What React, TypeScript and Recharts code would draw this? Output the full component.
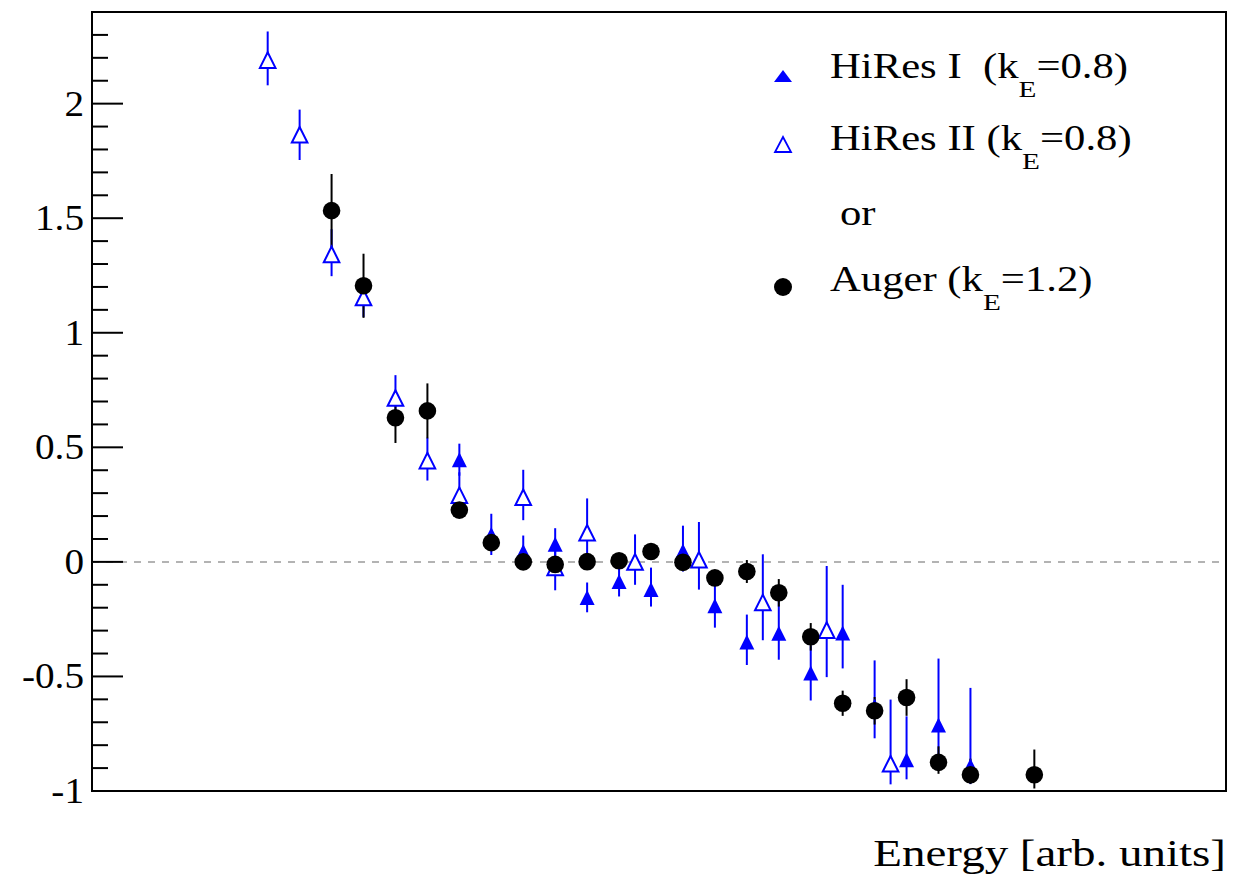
import React from 'react';
import {
  ScatterChart,
  Scatter,
  XAxis,
  YAxis,
  ErrorBar,
  ReferenceLine,
  ReferenceArea,
} from 'recharts';

// bin position along the (unlabelled) energy axis
const hiresIX = [6, 7, 8, 9, 10, 11, 12, 13, 14, 15, 16, 17, 18, 19, 20, 21, 22];
const hiresIY = [0.446, 0.12, 0.045, 0.077, -0.155, -0.086, -0.12, 0.048, -0.192, -0.35, -0.312, -0.485, -0.31, -0.63, -0.864, -0.712, -0.89];
const hiresIErrDown = [0.07, 0.09, 0.07, 0.07, 0.065, 0.065, 0.075, 0.09, 0.095, 0.1, 0.115, 0.12, 0.155, 0.14, 0.085, 0.16, 0.08];
const hiresIErrUp = [0.07, 0.09, 0.07, 0.07, 0.065, 0.065, 0.095, 0.11, 0.12, 0.12, 0.16, 0.12, 0.21, 0.2, 0.19, 0.29, 0.34];

const hiresIIX = [0, 1, 2, 3, 4, 5, 6, 8, 9, 10, 11.5, 13.5, 15.5, 17.5, 19.5];
const hiresIIY = [2.19, 1.864, 1.342, 1.154, 0.715, 0.442, 0.291, 0.282, -0.024, 0.127, 0.0, 0.009, -0.177, -0.298, -0.881];
const hiresIIErrDown = [0.11, 0.11, 0.095, 0.085, 0.1, 0.087, 0.1, 0.1, 0.1, 0.1, 0.1, 0.13, 0.165, 0.205, 0.09];
const hiresIIErrUp = [0.125, 0.11, 0.11, 0.085, 0.1, 0.1, 0.1, 0.12, 0.1, 0.15, 0.12, 0.165, 0.21, 0.28, 0.28];

const augerX = [2, 3, 4, 5, 6, 7, 8, 9, 10, 11, 12, 13, 14, 15, 16, 17, 18, 19, 20, 21, 22, 24];
const augerY = [1.533, 1.205, 0.629, 0.659, 0.226, 0.084, 0.0, -0.011, 0.001, 0.005, 0.045, -0.002, -0.07, -0.042, -0.135, -0.327, -0.617, -0.65, -0.592, -0.875, -0.929, -0.929];
const augerErrDown = [0.16, 0.14, 0.11, 0.12, 0.03, 0.03, 0.03, 0.03, 0.03, 0.03, 0.03, 0.03, 0.03, 0.05, 0.06, 0.06, 0.055, 0.06, 0.08, 0.05, 0.04, 0.06];
const augerErrUp = [0.16, 0.14, 0.11, 0.12, 0.03, 0.03, 0.03, 0.03, 0.03, 0.03, 0.03, 0.03, 0.03, 0.05, 0.06, 0.06, 0.055, 0.06, 0.08, 0.07, 0.07, 0.11];

const yTicks = [
  -1, -0.9, -0.8, -0.7, -0.6, -0.5, -0.4, -0.3, -0.2, -0.1,
  0, 0.1, 0.2, 0.3, 0.4, 0.5, 0.6, 0.7, 0.8, 0.9,
  1, 1.1, 1.2, 1.3, 1.4, 1.5, 1.6, 1.7, 1.8, 1.9,
  2, 2.1, 2.2, 2.3,
];
const yLabels = [-1, -0.5, 0, 0.5, 1, 1.5, 2];

const X_DOMAIN: [number, number] = [-5.5, 30];
const Y_DOMAIN: [number, number] = [-1, 2.4];

const BLUE = '#0000ff';
const FONT = '"Liberation Serif", "Times New Roman", serif';

type Pt = { x: number; y: number; err: [number, number] };

function build(xs: number[], ys: number[], lo: number[], hi: number[]): Pt[] {
  return xs.map((x, i) => ({ x, y: ys[i], err: [lo[i], hi[i]] }));
}

const hiresIData = build(hiresIX, hiresIY, hiresIErrDown, hiresIErrUp);
const hiresIIData = build(hiresIIX, hiresIIY, hiresIIErrDown, hiresIIErrUp);
const augerData = build(augerX, augerY, augerErrDown, augerErrUp);

const FilledTri = (p: any) => {
  const { cx, cy } = p;
  const s = 7.5;
  return <polygon points={`${cx - s},${cy + s} ${cx + s},${cy + s} ${cx},${cy - s}`} fill={BLUE} />;
};

const OpenTri = (p: any) => {
  const { cx, cy } = p;
  const s = 7.8;
  return (
    <polygon
      points={`${cx - s},${cy + s} ${cx + s},${cy + s} ${cx},${cy - s}`}
      fill="#fff"
      stroke={BLUE}
      strokeWidth={2}
    />
  );
};

const Dot = (p: any) => <circle cx={p.cx} cy={p.cy} r={8.8} fill="#000" />;

const YTick = (p: any) => {
  const { x, y, payload } = p;
  const v = payload.value as number;
  const major = yLabels.some((m) => Math.abs(m - v) < 1e-6);
  return (
    <g>
      <line x1={x} y1={y} x2={x + (major ? 31 : 16)} y2={y} stroke="#000" strokeWidth={2} />
      {major && (
        <text
          transform={`translate(${x - 8},${y + 12}) scale(1.12,1)`}
          textAnchor="end"
          fontFamily={FONT}
          fontSize={35}
          fill="#000"
        >
          {String(Math.round(v * 10) / 10)}
        </text>
      )}
    </g>
  );
};

const Overlay = () => (
  <svg
    width={1250}
    height={883}
    style={{ position: 'absolute', left: 0, top: 0, pointerEvents: 'none' }}
    fontFamily={FONT}
  >
    <polygon points="774,82 792,82 783,70" fill={BLUE} />
    <polygon points="775,152 791,152 783,137" fill="none" stroke={BLUE} strokeWidth={1.8} />
    <circle cx={783} cy={287} r={9} fill="#000" />
    <g fontSize={35} fill="#000">
      <text transform="translate(830,78) scale(1.22,1)">
        HiRes I{'\u00a0\u00a0'}(k<tspan fontSize={24} dy={19}>E</tspan><tspan dy={-19}>=0.8)</tspan>
      </text>
      <text transform="translate(830,150) scale(1.22,1)">
        HiRes II (k<tspan fontSize={24} dy={19}>E</tspan><tspan dy={-19}>=0.8)</tspan>
      </text>
      <text transform="translate(840,225) scale(1.22,1)">or</text>
      <text transform="translate(830,291) scale(1.22,1)">
        Auger (k<tspan fontSize={24} dy={19}>E</tspan><tspan dy={-19}>=1.2)</tspan>
      </text>
    </g>
    <text transform="translate(1226,866) scale(1.27,1)" textAnchor="end" fontSize={37} fill="#000">
      Energy [arb. units]
    </text>
  </svg>
);

export default function App() {
  return (
    <div style={{ position: 'absolute', left: 0, top: 0, width: 1250, height: 883, background: '#fff' }}>
      <ScatterChart width={1250} height={883} margin={{ top: 12, right: 24, bottom: 92, left: 0 }}>
        <XAxis type="number" dataKey="x" domain={X_DOMAIN} hide allowDataOverflow />
        <YAxis
          type="number"
          dataKey="y"
          domain={Y_DOMAIN}
          ticks={yTicks}
          interval={0}
          width={92}
          tickSize={0}
          tickMargin={0}
          axisLine={false}
          tickLine={false}
          tick={<YTick />}
          allowDataOverflow
        />
        <ReferenceLine y={0} stroke="#9a9a9a" strokeDasharray="7 7" strokeWidth={1.5} />
        <Scatter data={hiresIData} shape={<FilledTri />} isAnimationActive={false}>
          <ErrorBar dataKey="err" direction="y" width={0} stroke={BLUE} strokeWidth={2} />
        </Scatter>
        <Scatter data={hiresIIData} shape={<OpenTri />} isAnimationActive={false}>
          <ErrorBar dataKey="err" direction="y" width={0} stroke={BLUE} strokeWidth={2} />
        </Scatter>
        <Scatter data={augerData} shape={<Dot />} isAnimationActive={false}>
          <ErrorBar dataKey="err" direction="y" width={0} stroke="#000" strokeWidth={2} />
        </Scatter>
        <ReferenceArea
          x1={X_DOMAIN[0]}
          x2={X_DOMAIN[1]}
          y1={Y_DOMAIN[0]}
          y2={Y_DOMAIN[1]}
          fill="none"
          fillOpacity={0}
          stroke="#000"
          strokeWidth={2}
          ifOverflow="visible"
        />
      </ScatterChart>
      <Overlay />
    </div>
  );
}
